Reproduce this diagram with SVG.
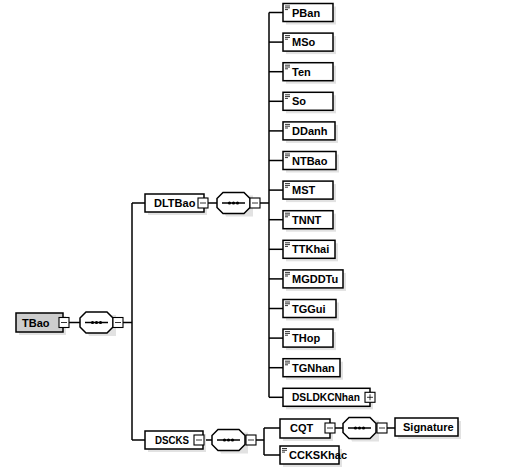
<svg xmlns="http://www.w3.org/2000/svg" width="518" height="474" viewBox="0 0 518 474">
<style>
.ln{stroke:#000;stroke-width:1.5;fill:none}
.bx{fill:#fff;stroke:#000;stroke-width:1.5}
.root{fill:#cdcdcd;stroke:#000;stroke-width:1.5}
.sh{fill:#e2e2e2}
.sq{fill:#fff;stroke:#000;stroke-width:1.1}
.t{font-family:"Liberation Sans",Arial,sans-serif;font-weight:bold;font-size:11px;fill:#000}
.ic{stroke:#000;stroke-width:0.8}
</style>
<defs>
<g id="seq">
<path class="sh" d="M9,3 L36,3 L36,24 L9,24 Z M3,9 L9,9 L9,24 Z"/>
<path class="bx" d="M6,0 L27,0 L33,6 L33,15 L27,21 L6,21 L0,15 L0,6 Z"/>
<line class="ln" x1="5" y1="10.5" x2="28" y2="10.5" stroke-width="1"/>
<circle cx="12.5" cy="10.5" r="1.6"/><circle cx="16.5" cy="10.5" r="1.6"/><circle cx="20.5" cy="10.5" r="1.6"/>
</g>
<g id="minus"><rect class="sq" x="0" y="0" width="10" height="10"/><line class="ic" x1="2" y1="5" x2="8" y2="5"/></g>
<g id="plus"><rect class="sq" x="0" y="0" width="10" height="10"/><line class="ic" x1="2" y1="5" x2="8" y2="5"/><line class="ic" x1="5" y1="2" x2="5" y2="8"/></g>
<g id="lic"><line class="ic" x1="2" y1="2.5" x2="7" y2="2.5"/><line class="ic" x1="2" y1="4.3" x2="7" y2="4.3"/><line class="ic" x1="2" y1="6.1" x2="5" y2="6.1"/></g>
</defs>

<g id="connectors">
<line class="ln" x1="69" y1="322.5" x2="80" y2="322.5"/>
<line class="ln" x1="123" y1="322.5" x2="132" y2="322.5"/>
<line class="ln" x1="132" y1="203" x2="132" y2="440"/>
<line class="ln" x1="132" y1="203" x2="145" y2="203"/>
<line class="ln" x1="132" y1="440" x2="145" y2="440"/>
<line class="ln" x1="208" y1="203" x2="217" y2="203"/>
<line class="ln" x1="259" y1="203" x2="269" y2="203"/>
<line class="ln" x1="269" y1="12.5" x2="269" y2="397.3"/>
<line class="ln" x1="269" y1="12.5" x2="283" y2="12.5"/>
<line class="ln" x1="269" y1="42.1" x2="283" y2="42.1"/>
<line class="ln" x1="269" y1="71.7" x2="283" y2="71.7"/>
<line class="ln" x1="269" y1="101.3" x2="283" y2="101.3"/>
<line class="ln" x1="269" y1="130.9" x2="283" y2="130.9"/>
<line class="ln" x1="269" y1="160.5" x2="283" y2="160.5"/>
<line class="ln" x1="269" y1="190.1" x2="283" y2="190.1"/>
<line class="ln" x1="269" y1="219.7" x2="283" y2="219.7"/>
<line class="ln" x1="269" y1="249.3" x2="283" y2="249.3"/>
<line class="ln" x1="269" y1="278.9" x2="283" y2="278.9"/>
<line class="ln" x1="269" y1="308.5" x2="283" y2="308.5"/>
<line class="ln" x1="269" y1="338.1" x2="283" y2="338.1"/>
<line class="ln" x1="269" y1="367.7" x2="283" y2="367.7"/>
<line class="ln" x1="269" y1="397.3" x2="283" y2="397.3"/>
<line class="ln" x1="204" y1="440" x2="212" y2="440"/>
<line class="ln" x1="256" y1="440" x2="264" y2="440"/>
<line class="ln" x1="264" y1="428" x2="264" y2="455"/>
<line class="ln" x1="264" y1="428" x2="280" y2="428"/>
<line class="ln" x1="264" y1="455" x2="280" y2="455"/>
<line class="ln" x1="335" y1="428" x2="343" y2="428"/>
<line class="ln" x1="387" y1="428" x2="395" y2="428"/>
</g>

<g id="TBao">
<rect class="sh" x="19" y="316" width="47" height="19"/>
<rect class="root" x="16" y="313" width="47" height="19"/>
<text class="t" x="22" y="326.5">TBao</text>
<use href="#minus" x="59" y="317.5"/>
</g>
<g id="TBao_seq"><use href="#seq" x="80" y="312"/><use href="#minus" x="113" y="317.5"/></g>

<g id="DLTBao">
<rect class="sh" x="148" y="197" width="59" height="18"/>
<rect class="bx" x="145" y="194" width="59" height="18"/>
<text class="t" x="154" y="207">DLTBao</text>
<use href="#minus" x="198" y="198"/>
</g>
<g id="DLTBao_seq"><use href="#seq" x="217" y="192.5"/><use href="#minus" x="250" y="198"/></g>

<g id="PBan"><rect class="sh" x="286" y="6.5" width="50" height="18"/><rect class="bx" x="283" y="3.5" width="50" height="18"/><use href="#lic" x="283" y="3.5"/><text class="t" x="292" y="16.5">PBan</text></g>
<g id="MSo"><rect class="sh" x="286" y="36.1" width="50" height="18"/><rect class="bx" x="283" y="33.1" width="50" height="18"/><use href="#lic" x="283" y="33.1"/><text class="t" x="292" y="46.1">MSo</text></g>
<g id="Ten"><rect class="sh" x="286" y="65.7" width="50" height="18"/><rect class="bx" x="283" y="62.7" width="50" height="18"/><use href="#lic" x="283" y="62.7"/><text class="t" x="292" y="75.7">Ten</text></g>
<g id="So"><rect class="sh" x="286" y="95.3" width="50" height="18"/><rect class="bx" x="283" y="92.3" width="50" height="18"/><use href="#lic" x="283" y="92.3"/><text class="t" x="292" y="105.3">So</text></g>
<g id="DDanh"><rect class="sh" x="286" y="124.9" width="52" height="18"/><rect class="bx" x="283" y="121.9" width="52" height="18"/><use href="#lic" x="283" y="121.9"/><text class="t" x="292" y="134.9">DDanh</text></g>
<g id="NTBao"><rect class="sh" x="286" y="154.5" width="53" height="18"/><rect class="bx" x="283" y="151.5" width="53" height="18"/><use href="#lic" x="283" y="151.5"/><text class="t" x="292" y="164.5">NTBao</text></g>
<g id="MST"><rect class="sh" x="286" y="184.1" width="50" height="18"/><rect class="bx" x="283" y="181.1" width="50" height="18"/><use href="#lic" x="283" y="181.1"/><text class="t" x="292" y="194.1">MST</text></g>
<g id="TNNT"><rect class="sh" x="286" y="213.7" width="50" height="18"/><rect class="bx" x="283" y="210.7" width="50" height="18"/><use href="#lic" x="283" y="210.7"/><text class="t" x="292" y="223.7">TNNT</text></g>
<g id="TTKhai"><rect class="sh" x="286" y="243.3" width="52" height="18"/><rect class="bx" x="283" y="240.3" width="52" height="18"/><use href="#lic" x="283" y="240.3"/><text class="t" x="292" y="253.3">TTKhai</text></g>
<g id="MGDDTu"><rect class="sh" x="286" y="272.9" width="60" height="18"/><rect class="bx" x="283" y="269.9" width="60" height="18"/><use href="#lic" x="283" y="269.9"/><text class="t" x="292" y="282.9">MGDDTu</text></g>
<g id="TGGui"><rect class="sh" x="286" y="302.5" width="53" height="18"/><rect class="bx" x="283" y="299.5" width="53" height="18"/><use href="#lic" x="283" y="299.5"/><text class="t" x="292" y="312.5">TGGui</text></g>
<g id="THop"><rect class="sh" x="286" y="332.1" width="50" height="18"/><rect class="bx" x="283" y="329.1" width="50" height="18"/><use href="#lic" x="283" y="329.1"/><text class="t" x="292" y="342.1">THop</text></g>
<g id="TGNhan"><rect class="sh" x="286" y="361.7" width="57" height="18"/><rect class="bx" x="283" y="358.7" width="57" height="18"/><use href="#lic" x="283" y="358.7"/><text class="t" x="292" y="371.7">TGNhan</text></g>
<g id="DSLDKCNhan"><rect class="sh" x="286" y="391.3" width="87" height="18"/><rect class="bx" x="283" y="388.3" width="87" height="18"/><text class="t" x="292" y="401.3" textLength="68" lengthAdjust="spacingAndGlyphs">DSLDKCNhan</text><use href="#plus" x="365" y="392.3"/></g>

<g id="DSCKS">
<rect class="sh" x="148" y="434" width="58" height="18"/>
<rect class="bx" x="145" y="431" width="58" height="18"/>
<text class="t" x="155" y="444" textLength="34" lengthAdjust="spacingAndGlyphs">DSCKS</text>
<use href="#minus" x="194" y="435"/>
</g>
<g id="DSCKS_seq"><use href="#seq" x="212" y="429.5"/><use href="#minus" x="246" y="435"/></g>

<g id="CQT">
<rect class="sh" x="283" y="422" width="50" height="19"/>
<rect class="bx" x="280" y="419" width="50" height="19"/>
<text class="t" x="290" y="432">CQT</text>
<use href="#minus" x="325" y="423"/>
</g>
<g id="CQT_seq"><use href="#seq" x="343" y="417.5"/><use href="#minus" x="377" y="423"/></g>

<g id="Signature"><rect class="sh" x="398" y="421" width="63" height="18"/><rect class="bx" x="395" y="418" width="63" height="18"/><text class="t" x="403" y="431">Signature</text></g>
<g id="CCKSKhac"><rect class="sh" x="283" y="449" width="59" height="18"/><rect class="bx" x="280" y="446" width="59" height="18"/><use href="#lic" x="280" y="446"/><text class="t" x="289" y="459">CCKSKhac</text></g>
</svg>
